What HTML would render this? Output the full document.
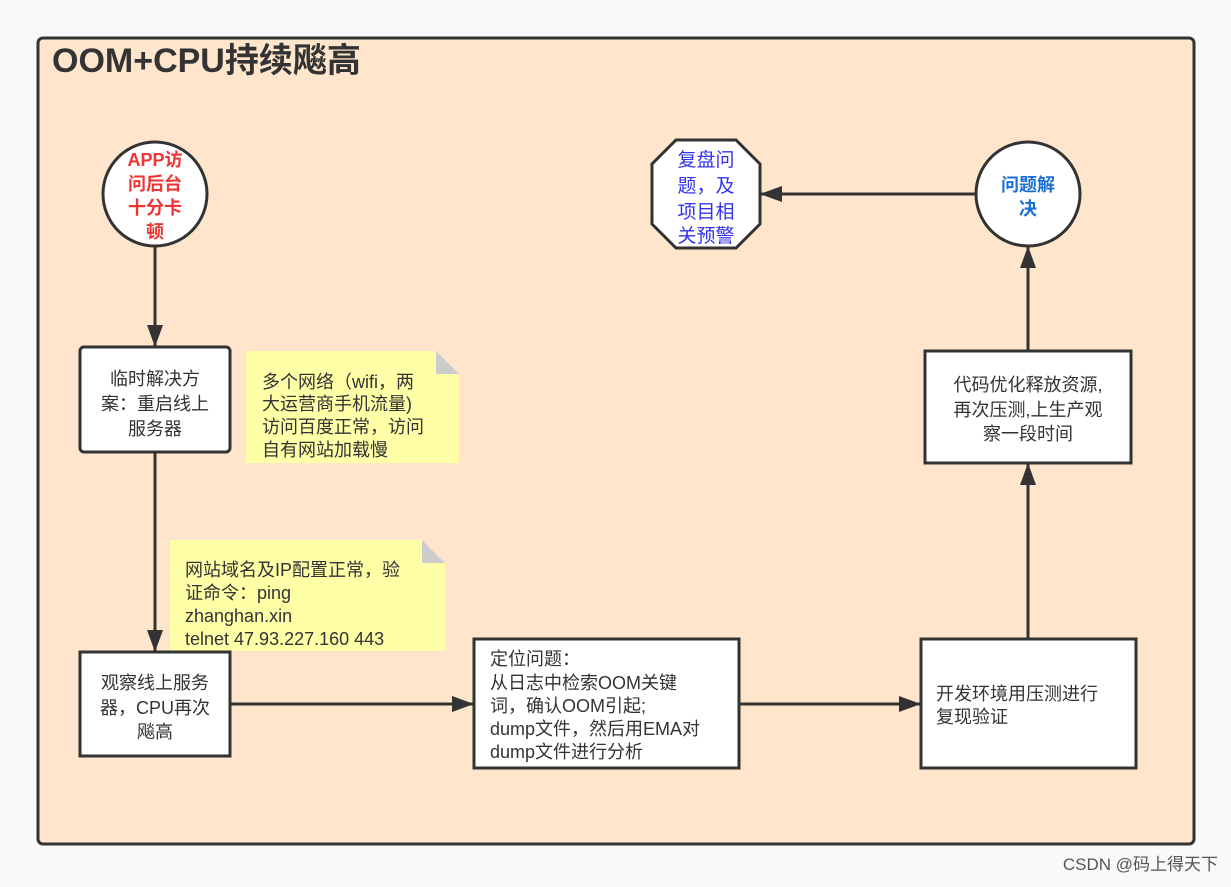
<!DOCTYPE html>
<html><head><meta charset="utf-8"><style>
body{margin:0;background:#f9f9f9;}
svg text{font-family:"Liberation Sans","Noto Sans CJK SC",sans-serif;}
</style></head><body>
<svg width="1231" height="882" xmlns="http://www.w3.org/2000/svg">
<defs><marker id="a" markerWidth="22" markerHeight="16" refX="21" refY="8" orient="auto" markerUnits="userSpaceOnUse"><path d="M0,0 L22,8 L0,16 Z" fill="#333"/></marker></defs>
<rect x="38" y="38" width="1156" height="806" rx="5" fill="#fee5cb" stroke="#333" stroke-width="3"/>
<text x="52" y="72" font-size="34" font-weight="bold" fill="#333">OOM+CPU持续飚高</text>
<g stroke="#333" stroke-width="3" fill="none">
<line x1="155" y1="245" x2="155" y2="346" marker-end="url(#a)"/>
<line x1="155" y1="452" x2="155" y2="651" marker-end="url(#a)"/>
<line x1="230" y1="704" x2="473" y2="704" marker-end="url(#a)"/>
<line x1="739" y1="704" x2="920" y2="704" marker-end="url(#a)"/>
<line x1="1028" y1="638" x2="1028" y2="464" marker-end="url(#a)"/>
<line x1="1028" y1="350" x2="1028" y2="247" marker-end="url(#a)"/>
<line x1="975" y1="194" x2="761" y2="194" marker-end="url(#a)"/>
</g>
<circle cx="155" cy="194" r="52" fill="#fff" stroke="#333" stroke-width="3"/>
<g font-size="18" font-weight="bold" fill="#f03333" text-anchor="middle">
<text x="155" y="166">APP访</text><text x="155" y="190">问后台</text><text x="155" y="214">十分卡</text><text x="155" y="238">顿</text></g>
<circle cx="1028" cy="194" r="52" fill="#fff" stroke="#333" stroke-width="3"/>
<g font-size="18" font-weight="bold" fill="#1a6fd6" text-anchor="middle"><text x="1028" y="191">问题解</text><text x="1028" y="215">决</text></g>
<polygon points="676,140 736,140 760,164 760,224 736,248 676,248 652,224 652,164" fill="#fff" stroke="#333" stroke-width="3"/>
<g font-size="19" fill="#3333ee" text-anchor="middle"><text x="706" y="166">复盘问</text><text x="706" y="192">题，及</text><text x="706" y="218">项目相</text><text x="706" y="242">关预警</text></g>
<rect x="80" y="347" width="150" height="105" rx="4" fill="#fff" stroke="#333" stroke-width="3"/>
<g font-size="18" fill="#333" text-anchor="middle"><text x="155" y="385">临时解决方</text><text x="155" y="410">案：重启线上</text><text x="155" y="435">服务器</text></g>
<path d="M246,351 H436 L459,374 V463 H246 Z" fill="#ffffa8"/><path d="M436,351 L459,374 H436 Z" fill="#ccc"/>
<g font-size="18" fill="#333"><text x="262" y="388">多个网络（wifi，两</text><text x="262" y="410">大运营商手机流量)</text><text x="262" y="433">访问百度正常，访问</text><text x="262" y="456">自有网站加载慢</text></g>
<path d="M170,540 H422 L445,563 V651 H170 Z" fill="#ffffa8"/><path d="M422,540 L445,563 H422 Z" fill="#ccc"/>
<g font-size="18" fill="#333"><text x="185" y="576">网站域名及IP配置正常，验</text><text x="185" y="599">证命令：ping</text><text x="185" y="622">zhanghan.xin</text><text x="185" y="645">telnet 47.93.227.160 443</text></g>
<rect x="80" y="652" width="150" height="104" fill="#fff" stroke="#333" stroke-width="3"/>
<g font-size="18" fill="#333" text-anchor="middle"><text x="155" y="689">观察线上服务</text><text x="155" y="714">器，CPU再次</text><text x="155" y="738">飚高</text></g>
<rect x="474" y="639" width="265" height="129" fill="#fff" stroke="#333" stroke-width="3"/>
<g font-size="18" fill="#333"><text x="490" y="665">定位问题：</text><text x="490" y="689">从日志中检索OOM关键</text><text x="490" y="712">词，确认OOM引起;</text><text x="490" y="735">dump文件，然后用EMA对</text><text x="490" y="758">dump文件进行分析</text></g>
<rect x="921" y="639" width="215" height="129" fill="#fff" stroke="#333" stroke-width="3"/>
<g font-size="18" fill="#333"><text x="936" y="700">开发环境用压测进行</text><text x="936" y="723">复现验证</text></g>
<rect x="925" y="351" width="206" height="112" fill="#fff" stroke="#333" stroke-width="3"/>
<g font-size="18" fill="#333" text-anchor="middle"><text x="1028" y="391">代码优化释放资源,</text><text x="1028" y="416">再次压测,上生产观</text><text x="1028" y="440">察一段时间</text></g>
<text x="1218" y="870" font-size="17" fill="#555" text-anchor="end">CSDN @码上得天下</text>
</svg>
</body></html>
